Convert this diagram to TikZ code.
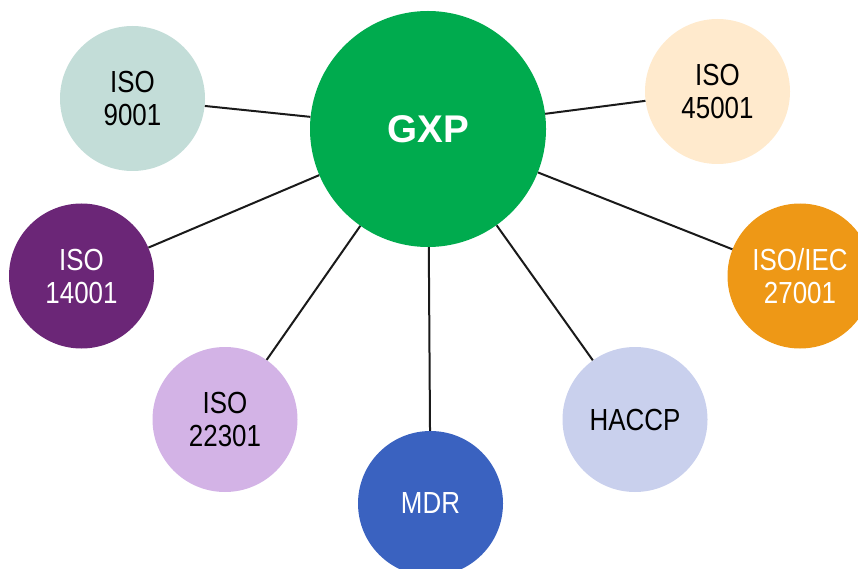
\documentclass[tikz,border=0pt]{standalone}
\usepackage{fontspec}
\setmainfont{Liberation Sans}
\newfontfamily\narrowfont[FakeStretch=0.85]{Liberation Sans}
\definecolor{cgxp}{HTML}{00AB4E}
\definecolor{c9001}{HTML}{C3DDD8}
\definecolor{c14001}{HTML}{6B2677}
\definecolor{c45001}{HTML}{FFEACD}
\definecolor{c27001}{HTML}{EE9816}
\definecolor{c22301}{HTML}{D3B3E6}
\definecolor{cmdr}{HTML}{3A62C0}
\definecolor{chaccp}{HTML}{C9D0ED}
\definecolor{linec}{HTML}{1A1A1A}
\tikzset{
  sat/.style={circle, minimum size=145pt, inner sep=0pt, align=center,
    font=\narrowfont\fontsize{30.5}{33}\selectfont},
  hub/.style={circle, minimum size=236pt, inner sep=0pt, fill=cgxp, text=white,
    font=\bfseries\fontsize{38.6}{42}\selectfont},
  link/.style={draw=linec, line width=2pt}
}
\begin{document}
\begin{tikzpicture}[x=1pt, y=-1pt]
\useasboundingbox (0,0) rectangle (858,569);
\clip (0,0) rectangle (858,569);
\node[hub] (g) at (428,129) {GXP};
\node[sat, fill=c9001, text=black] (a) at (132.5,98.5) {ISO\\9001};
\node[sat, fill=c14001, text=white] (b) at (81.5,276) {ISO\\14001};
\node[sat, fill=c45001, text=black] (c) at (717.5,91.5) {ISO\\45001};
\node[sat, fill=c27001, text=white] (d) at (800,276) {ISO/IEC\\27001};
\node[sat, fill=c22301, text=black] (e) at (225,419.5) {ISO\\22301};
\node[sat, fill=cmdr, text=white] (f) at (430.5,503.5) {MDR};
\node[sat, fill=chaccp, text=black] (h) at (635,419.5) {HACCP};
\foreach \n in {a,b,c,d,e,f,h} \draw[link] (g) -- (\n);
\end{tikzpicture}
\end{document}
